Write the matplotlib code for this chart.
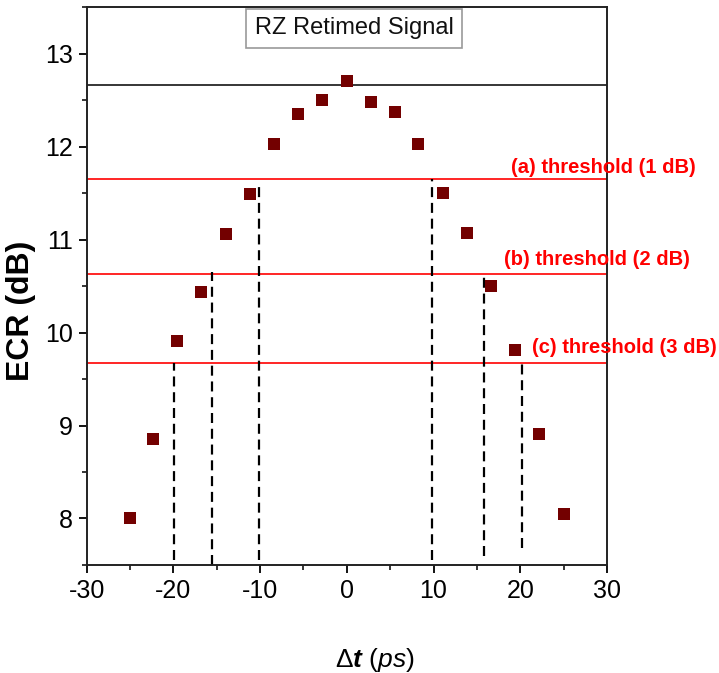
import numpy as np
import matplotlib.pyplot as plt

plt.rcParams['font.family'] = ['Liberation Sans', 'DejaVu Sans']
plt.rcParams['axes.unicode_minus'] = False
plt.rcParams['mathtext.fontset'] = 'custom'
plt.rcParams['mathtext.rm'] = 'Liberation Sans'
plt.rcParams['mathtext.it'] = 'Liberation Sans:italic'
plt.rcParams['mathtext.bf'] = 'Liberation Sans:italic:bold'

# Measured ECR vs time offset
dt = [-25.0, -22.3, -19.55, -16.8, -13.95, -11.15, -8.4, -5.6, -2.85, 0.0,
      2.75, 5.55, 8.25, 11.1, 13.85, 16.65, 19.45, 22.2, 25.0]
ecr = [8.0, 8.85, 9.91, 10.44, 11.06, 11.49, 12.03, 12.35, 12.5, 12.71,
       12.48, 12.37, 12.03, 11.5, 11.07, 10.5, 9.81, 8.91, 8.05]

# reference level and thresholds
peak_level = 12.66
thr_levels = [11.65, 10.63, 9.67]
thr_labels = ["(a) threshold (1 dB)", "(b) threshold (2 dB)", "(c) threshold (3 dB)"]
thr_label_x = [18.97, 18.1, 21.4]
thr_label_y = [11.72, 10.73, 9.78]

# dashed crossing markers: x, bottom, top
cross_x = [-19.9, -15.55, -10.1, 9.87, 15.82, 20.16]
cross_lo = [7.55, 7.5, 7.55, 7.55, 7.6, 7.68]
cross_hi = [9.67, 10.65, 11.6, 11.65, 10.65, 9.67]

fig = plt.figure(figsize=(7.19, 6.73), dpi=100)
ax = fig.add_axes([0.1206, 0.1605, 0.7236, 0.829])

ax.axhline(peak_level, color='black', lw=1.1)
for lvl in thr_levels:
    ax.axhline(lvl, color='red', lw=1.2)

for x, lo, hi in zip(cross_x, cross_lo, cross_hi):
    ax.plot([x, x], [lo, hi], color='black', lw=1.6, dashes=(4.5, 2.6))

ax.plot(dt, ecr, 's', color='#730000', markersize=8.5, markeredgewidth=0)

for lab, x, y in zip(thr_labels, thr_label_x, thr_label_y):
    ax.text(x, y, lab, color='red', fontsize=14.5, fontweight='bold',
            ha='left', va='baseline', clip_on=False)

ax.text(0.514, 0.962, "RZ Retimed Signal", transform=ax.transAxes,
        fontsize=17, ha='center', va='center', color='#111111',
        bbox=dict(boxstyle='square,pad=0.35', fc='white', ec='#999999', lw=1.2))

ax.set_xlim(-30, 30)
ax.set_ylim(7.5, 13.5)
ax.set_xticks(np.arange(-30, 31, 10))
ax.set_xticks(np.arange(-25, 30, 10), minor=True)
ax.set_yticks(np.arange(8, 14, 1))
ax.set_yticks(np.arange(7.5, 13.6, 0.5), minor=True)
ax.tick_params(which='major', direction='out', length=6, width=1.3, labelsize=18, pad=4)
ax.tick_params(which='minor', direction='out', length=3.5, width=1.1)
for s in ax.spines.values():
    s.set_linewidth(1.4)
    s.set_color('#222222')

ax.set_ylabel("ECR (dB)", fontsize=23, fontweight='bold')
ax.yaxis.set_label_coords(-0.097, 0.456)
ax.set_xlabel(r"$\Delta\mathbf{t}\ (\mathit{ps})$", fontsize=19)
ax.xaxis.set_label_coords(0.554, -0.145)

fig.savefig("out.png", dpi=100)
